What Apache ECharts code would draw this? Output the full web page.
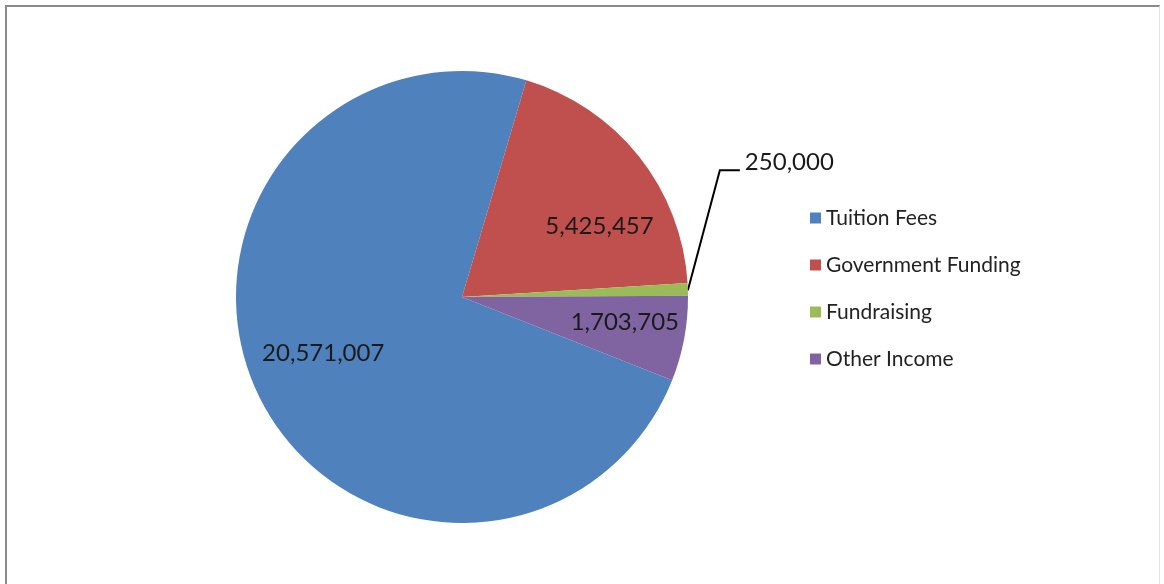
<!DOCTYPE html>
<html lang="en">
<head>
    <meta charset="UTF-8">
    <title>Income</title>
    <script type="text/javascript" src="https://cdn.jsdelivr.net/npm/echarts@6/dist/echarts.min.js"></script>
    <style>
        html, body { margin: 0; padding: 0; background: #fff; }
        #frame {
            position: absolute; left: 5px; top: 5px; width: 1152px; height: 585px;
            border-top: 2px solid #8a8a8a; border-left: 2px solid #8a8a8a; border-right: 1px solid #e2e2e2;
        }
        #main { position: absolute; left: 0; top: 0; width: 1164px; height: 584px; }
    </style>
</head>
<body>
<div id="frame"></div>
<div id="main"></div>

<script type="text/javascript">

    const categories = ['Tuition Fees', 'Government Funding', 'Fundraising', 'Other Income']
    const values = [20571007, 5425457, 250000, 1703705]
    const colors = ['#4F81BD', '#C0504D', '#9BBB59', '#8064A2']

    // small nudges of the inside labels (Excel "best fit" placement)
    const labelNudge = [[2, -12], [15, 27], [0, 0], [9, -4]]

    const font = 'Lato, "Open Sans", sans-serif'
    const fmt = v => v.toLocaleString('en-US')
    const startAngle = -21.6

    let chart = echarts.init(document.getElementById('main'))

    chart.setOption({
        animation: false,
        color: colors,
        legend: {
            orient: 'vertical',
            left: 805,
            top: 202,
            icon: 'rect',
            itemWidth: 11,
            itemHeight: 11,
            itemGap: 25,
            selectedMode: false,
            textStyle: { fontFamily: font, fontSize: 21, lineHeight: 22, color: '#222' },
            data: categories
        },
        series: [
            {
                // main pie, only the small slice gets an outside label
                type: 'pie',
                center: [462, 297],
                radius: 226,
                startAngle: startAngle,
                clockwise: true,
                silent: true,
                avoidLabelOverlap: false,
                itemStyle: { borderWidth: 0 },
                label: { show: false },
                labelLine: { show: false },
                data: categories.map((name, i) => ({
                    name: name,
                    value: values[i],
                    label: i === 2 ? {
                        show: true,
                        position: 'outside',
                        formatter: p => fmt(p.value),
                        fontFamily: font,
                        fontSize: 24,
                        color: '#1a1a1a'
                    } : { show: false },
                    labelLine: i === 2 ? {
                        show: true, length: 20, length2: 20,
                        lineStyle: { color: '#000', width: 2 }
                    } : { show: false }
                })),
                labelLayout: function (params) {
                    if (params.dataIndex !== 2 || !params.labelLinePoints) return {}
                    const p = params.labelLinePoints[0]
                    return {
                        x: p[0] + 57,
                        y: p[1] - 127,
                        align: 'left',
                        verticalAlign: 'middle',
                        labelLinePoints: [
                            [p[0], p[1] + 1],
                            [p[0] + 32, p[1] - 119],
                            [p[0] + 52, p[1] - 119]
                        ]
                    }
                }
            },
            {
                // transparent copy used only to place the inside labels further out
                type: 'pie',
                center: [462, 297],
                radius: [0, 307],
                startAngle: startAngle,
                clockwise: true,
                silent: true,
                legendHoverLink: false,
                itemStyle: { color: 'rgba(0,0,0,0)', borderWidth: 0 },
                label: {
                    show: true,
                    position: 'inside',
                    formatter: p => fmt(p.value),
                    fontFamily: font,
                    fontSize: 24,
                    color: '#1a1a1a'
                },
                labelLine: { show: false },
                emphasis: { disabled: true },
                data: categories.map((name, i) => ({
                    name: name + ' ',
                    value: values[i],
                    label: { show: i !== 2 }
                })),
                labelLayout: function (params) {
                    const n = labelNudge[params.dataIndex]
                    return { dx: n[0], dy: n[1] }
                }
            }
        ]
    })

</script>
</body>
</html>
